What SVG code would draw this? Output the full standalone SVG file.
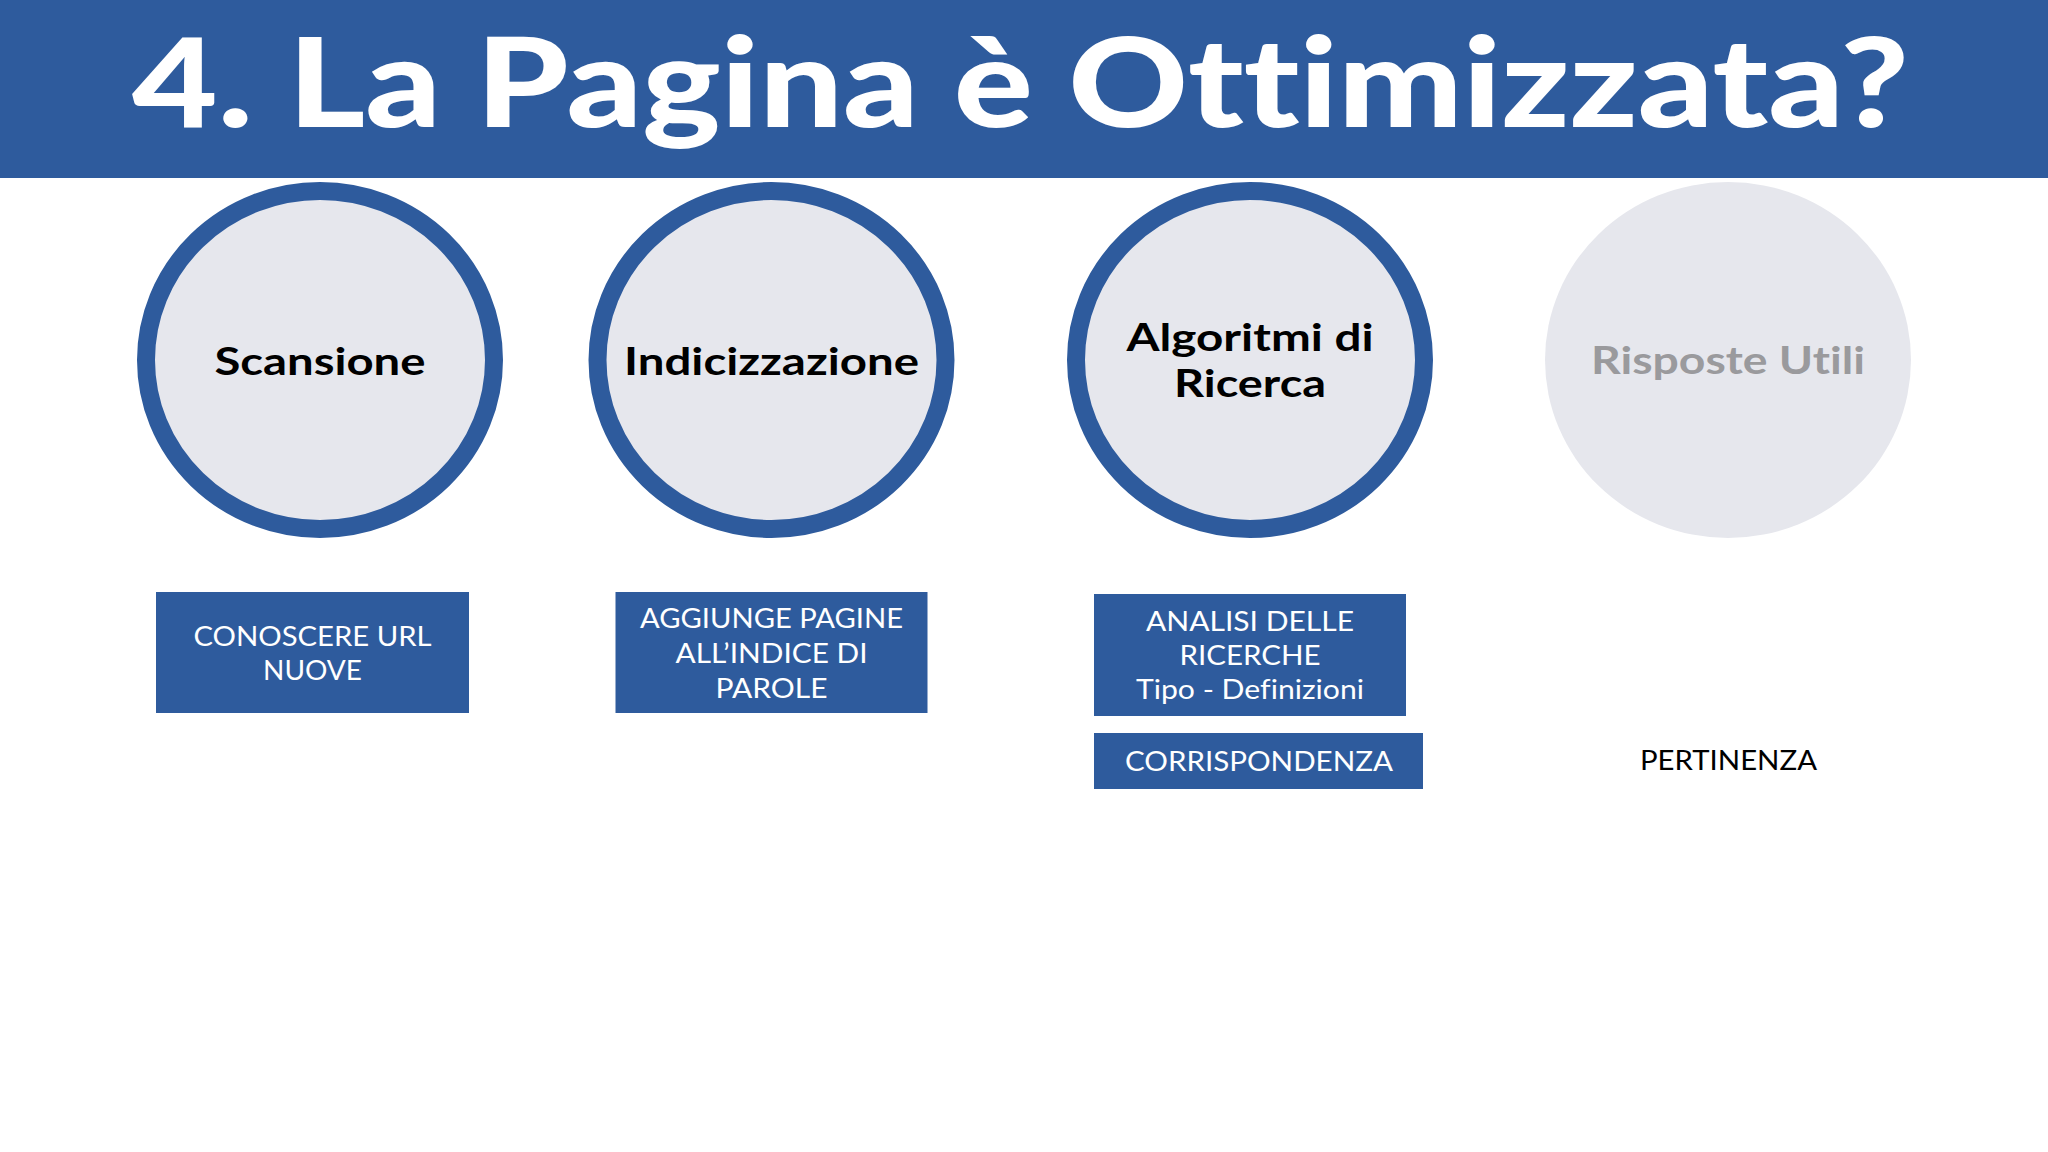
<svg xmlns="http://www.w3.org/2000/svg" width="2048" height="1152" viewBox="0 0 2048 1152">
<style>
text{font-variant-ligatures:none;font-feature-settings:"liga" 0,"clig" 0,"dlig" 0}
.bar{fill:#2e5b9d}
.ring{fill:#e6e7ed;stroke:#2e5b9d;stroke-width:18}
.ghost{fill:#e6e7ed}
.title{font-family:Lato,"Open Sans","Liberation Sans",sans-serif;font-weight:900;font-size:124px;fill:#ffffff}
.lbl{font-family:Lato,"Open Sans","Liberation Sans",sans-serif;font-weight:700;font-size:38px;fill:#000000;text-anchor:middle}
.lblg{font-family:Lato,"Open Sans","Liberation Sans",sans-serif;font-weight:700;font-size:38px;fill:#9a9a9d;text-anchor:middle}
.box{fill:#2e5b9d}
.bt{font-family:Lato,"Open Sans","Liberation Sans",sans-serif;font-weight:400;font-size:27px;fill:#ffffff;text-anchor:middle}
.pt{font-family:Lato,"Open Sans","Liberation Sans",sans-serif;font-weight:400;font-size:27px;fill:#000000;text-anchor:middle}
</style>
<rect x="0" y="0" width="2048" height="1152" fill="#ffffff"/>
<g id="header">
<rect class="bar" x="0" y="0" width="2048" height="178"/>
<text class="title" x="132" y="127" textLength="1777" lengthAdjust="spacingAndGlyphs">4. La Pagina è Ottimizzata?</text>
</g>
<g id="scansione">
<ellipse class="ring" cx="320" cy="360" rx="174" ry="169"/>
<text class="lbl" x="320" y="375" textLength="211" lengthAdjust="spacingAndGlyphs">Scansione</text>
</g>
<g id="indicizzazione">
<ellipse class="ring" cx="771.5" cy="360" rx="174" ry="169"/>
<text class="lbl" x="771.5" y="375" textLength="295" lengthAdjust="spacingAndGlyphs">Indicizzazione</text>
</g>
<g id="algoritmi">
<ellipse class="ring" cx="1250" cy="360" rx="174" ry="169"/>
<text class="lbl" x="1250" y="351" textLength="247" lengthAdjust="spacingAndGlyphs">Algoritmi di</text>
<text class="lbl" x="1250" y="397" textLength="152" lengthAdjust="spacingAndGlyphs">Ricerca</text>
</g>
<g id="risposte">
<ellipse class="ghost" cx="1728" cy="360" rx="183" ry="178"/>
<text class="lblg" x="1728" y="374" textLength="274" lengthAdjust="spacingAndGlyphs">Risposte Utili</text>
</g>
<g id="box-url">
<rect class="box" x="156" y="592" width="313" height="121"/>
<text class="bt" x="312.5" y="646" textLength="238" lengthAdjust="spacingAndGlyphs">CONOSCERE URL</text>
<text class="bt" x="312.5" y="680" textLength="99" lengthAdjust="spacingAndGlyphs">NUOVE</text>
</g>
<g id="box-indice">
<rect class="box" x="615.5" y="592" width="312" height="121"/>
<text class="bt" x="771.5" y="628" textLength="263" lengthAdjust="spacingAndGlyphs">AGGIUNGE PAGINE</text>
<text class="bt" x="771.5" y="663" textLength="192" lengthAdjust="spacingAndGlyphs">ALL’INDICE DI</text>
<text class="bt" x="771.5" y="698" textLength="112" lengthAdjust="spacingAndGlyphs">PAROLE</text>
</g>
<g id="box-analisi">
<rect class="box" x="1094" y="594" width="312" height="122"/>
<text class="bt" x="1250" y="631" textLength="208" lengthAdjust="spacingAndGlyphs">ANALISI DELLE</text>
<text class="bt" x="1250" y="665" textLength="141" lengthAdjust="spacingAndGlyphs">RICERCHE</text>
<text class="bt" x="1250" y="699" textLength="228" lengthAdjust="spacingAndGlyphs">Tipo - Definizioni</text>
</g>
<g id="box-corrispondenza">
<rect class="box" x="1094" y="733" width="329" height="56"/>
<text class="bt" x="1259" y="771" textLength="268" lengthAdjust="spacingAndGlyphs">CORRISPONDENZA</text>
</g>
<g id="pertinenza">
<text class="pt" x="1728.5" y="770" textLength="177" lengthAdjust="spacingAndGlyphs">PERTINENZA</text>
</g>
</svg>
